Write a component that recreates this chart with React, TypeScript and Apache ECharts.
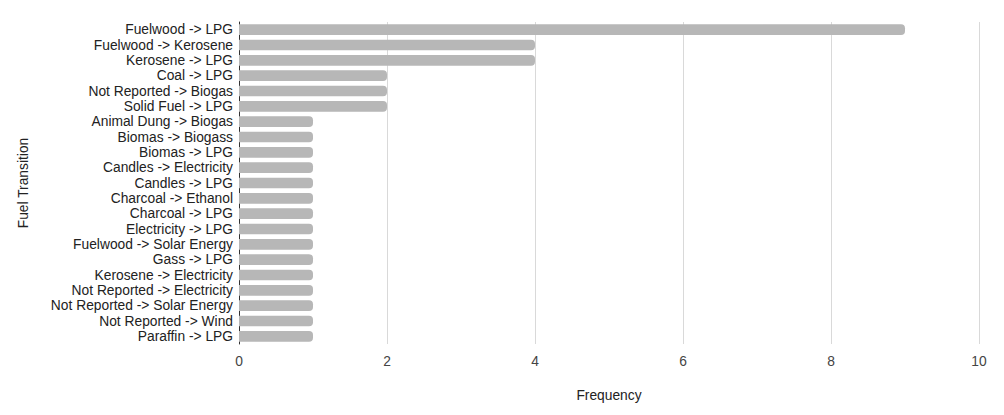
import React, { useEffect, useRef } from "react";
import * as echarts from "echarts";

const categories = [
  "Fuelwood -> LPG",
  "Fuelwood -> Kerosene",
  "Kerosene -> LPG",
  "Coal -> LPG",
  "Not Reported -> Biogas",
  "Solid Fuel -> LPG",
  "Animal Dung -> Biogas",
  "Biomas -> Biogass",
  "Biomas -> LPG",
  "Candles -> Electricity",
  "Candles -> LPG",
  "Charcoal -> Ethanol",
  "Charcoal -> LPG",
  "Electricity -> LPG",
  "Fuelwood -> Solar Energy",
  "Gass -> LPG",
  "Kerosene -> Electricity",
  "Not Reported -> Electricity",
  "Not Reported -> Solar Energy",
  "Not Reported -> Wind",
  "Paraffin -> LPG",
];
const frequency = [9, 4, 4, 2, 2, 2, 1, 1, 1, 1, 1, 1, 1, 1, 1, 1, 1, 1, 1, 1, 1];

export default function App() {
  const ref = useRef<HTMLDivElement>(null);
  useEffect(() => {
    if (!ref.current) return;
    const chart = echarts.init(ref.current, undefined, { renderer: "svg" });
    const font = "Arial, 'Liberation Sans', sans-serif";
    chart.setOption({
      animation: false,
      textStyle: { fontFamily: font },
      grid: { left: 231, right: 17, top: 14, bottom: 63, containLabel: false },
      xAxis: {
        type: "value",
        min: 0,
        max: 10,
        interval: 2,
        name: "Frequency",
        nameLocation: "middle",
        nameGap: 44,
        nameTextStyle: { color: "#222", fontSize: 13.8, fontFamily: font },
        axisLine: { show: false },
        axisTick: { show: false },
        axisLabel: { color: "#444", fontSize: 13.8, margin: 10, fontFamily: font },
        splitLine: { show: true, lineStyle: { color: "#d9d9d9", width: 1 } },
      },
      yAxis: {
        type: "category",
        data: categories,
        inverse: true,
        name: "Fuel Transition",
        nameLocation: "middle",
        nameGap: 209,
        nameRotate: 90,
        nameTextStyle: { color: "#222", fontSize: 13.8, fontFamily: font },
        axisLine: { show: true, lineStyle: { color: "#333", width: 1 } },
        axisTick: { show: false },
        axisLabel: { color: "#222", fontSize: 13.8, margin: 6, fontFamily: font, interval: 0 },
        splitLine: { show: false },
      },
      series: [
        {
          type: "bar",
          data: frequency,
          barCategoryGap: "30%",
          itemStyle: { color: "#b7b7b7", borderRadius: [0, 4, 4, 0] },
        },
      ],
    });
    return () => chart.dispose();
  }, []);
  return <div ref={ref} style={{ width: 988, height: 399 }} />;
}
